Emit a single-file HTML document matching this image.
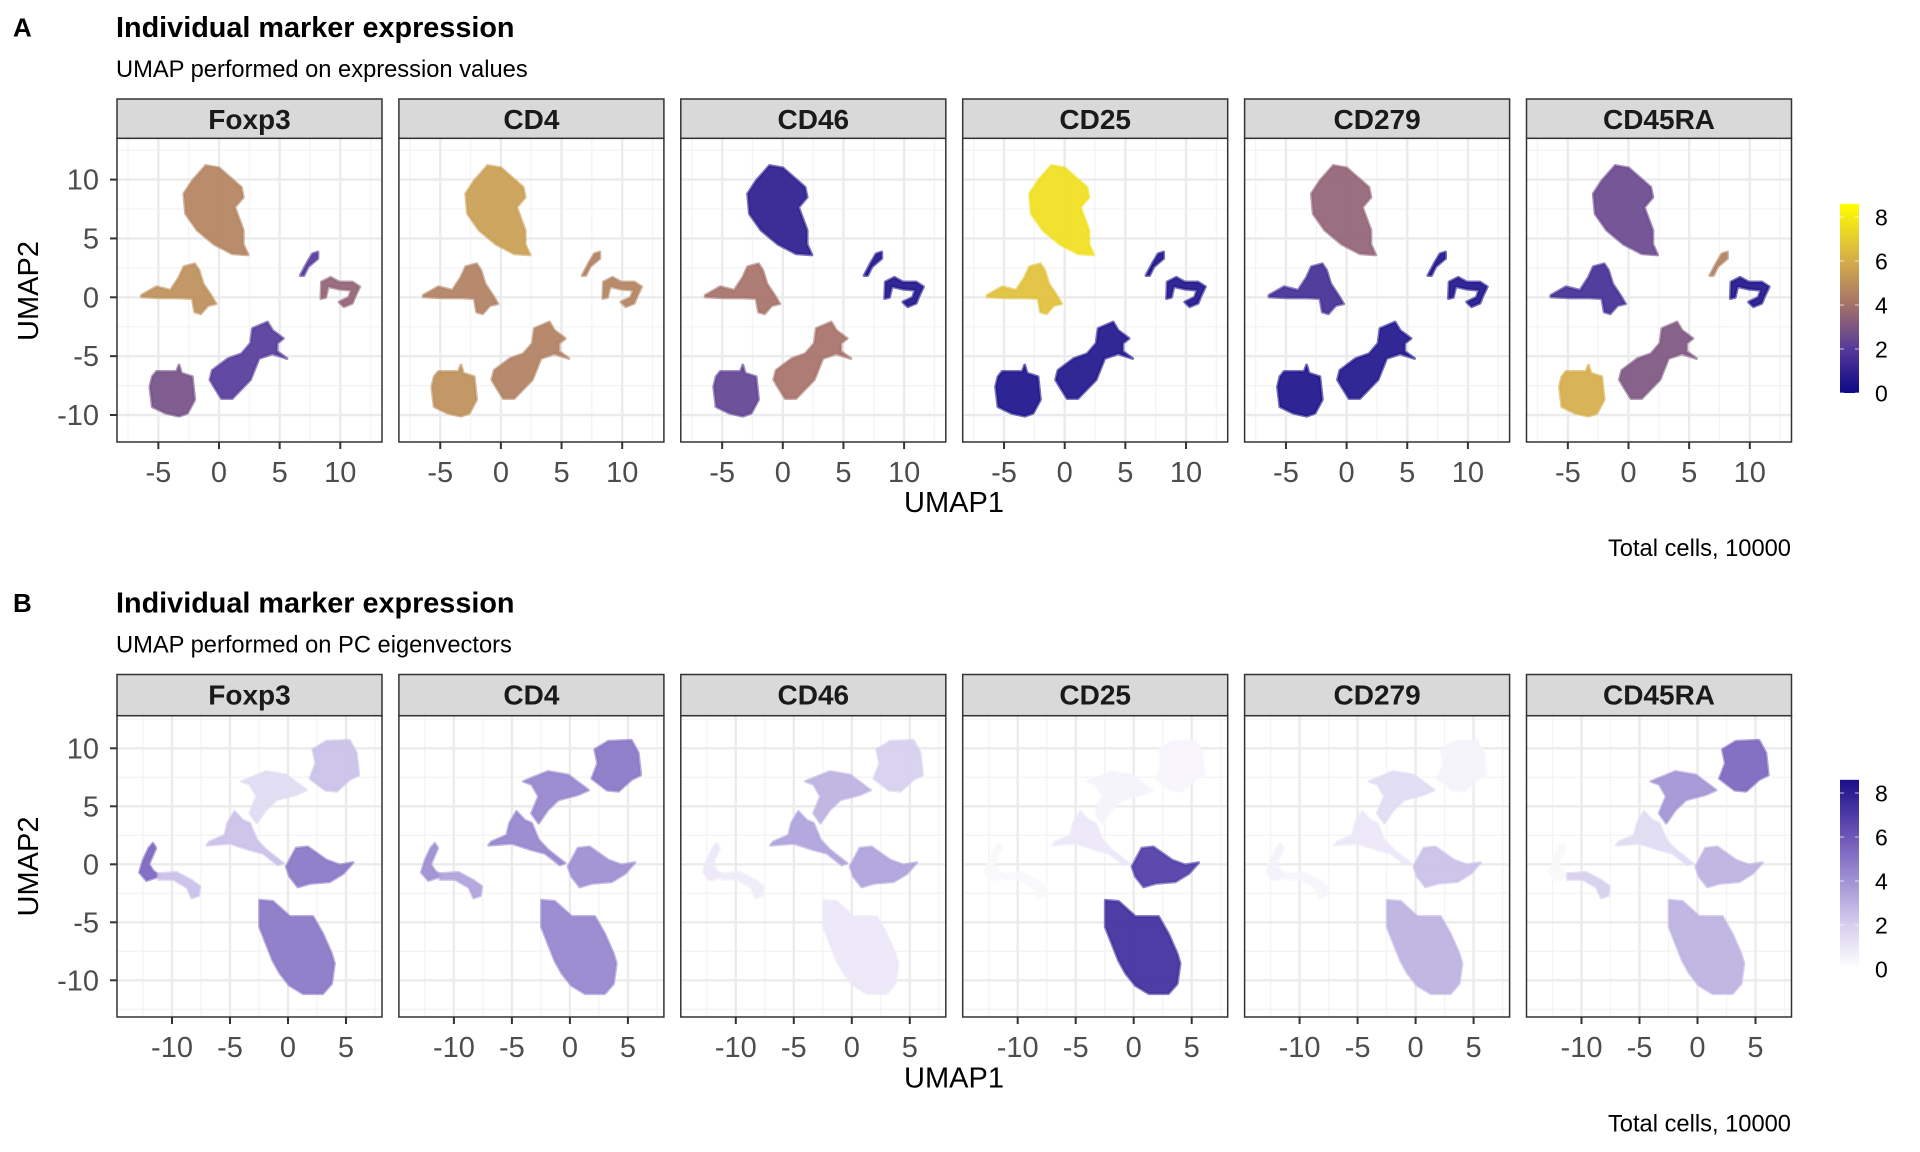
<!DOCTYPE html>
<html>
<head>
<meta charset="utf-8">
<style>
html,body{margin:0;padding:0;background:#fff;}
svg{display:block;font-family:"Liberation Sans",Arial,sans-serif;}
</style>
</head>
<body>
<svg id="fig" width="1920" height="1152" viewBox="0 0 1920 1152" xmlns="http://www.w3.org/2000/svg"></svg>
<script>
// ---------- DATA ----------
const markers = ["Foxp3","CD4","CD46","CD25","CD279","CD45RA"];

// Row A layout: clusters (polygons in UMAP units)
const topXTicks = [-5,0,5,10];
const topYTicks = [-10,-5,0,5,10];
const topClusterBig = [[-1.1,11.2],[0,11.0],[1.84,9.35],[2.0,8.5],[1.3,7.65],[2.0,5.7],[2.0,4.5],[2.4,3.6],[1.1,3.7],[-0.4,4.5],[-1.8,5.7],[-2.75,7.1],[-2.9,8.8],[-2.2,9.9]];
const topClusterLeft = [[-6.4,0.17],[-5.15,0.9],[-4.0,0.6],[-3.3,1.7],[-2.9,2.6],[-2.0,2.85],[-1.65,2.3],[-1.3,1.15],[-0.75,0.3],[-0.25,-0.55],[-0.9,-0.7],[-1.5,-1.4],[-2.0,-1.25],[-2.2,-0.1],[-3.3,-0.05],[-4.8,-0.05],[-6.4,0.03]];
const topClusterSmall = [[6.7,1.85],[7.3,3.0],[7.7,3.7],[8.15,3.85],[8.15,3.3],[7.35,2.6],[7.0,1.85]];
const topClusterRing = [[8.45,1.3],[9.2,1.7],[9.9,1.3],[11.0,1.3],[11.6,0.9],[11.2,0.03],[11.0,-0.5],[10.3,-0.8],[9.9,-0.4],[10.7,0],[10.9,0.6],[9.9,0.7],[9.0,0.9],[8.8,0],[8.4,-0.1]];
const topClusterMid = [[-0.55,-6.2],[0.75,-5.2],[1.85,-4.8],[2.6,-3.9],[2.75,-2.65],[4.0,-2.1],[4.4,-2.8],[5.3,-3.5],[4.8,-3.9],[4.8,-4.6],[5.6,-5.2],[4.4,-4.8],[3.3,-5.2],[2.6,-7.0],[1.1,-8.6],[0.2,-8.6],[-0.4,-7.6],[-0.75,-7.0]];
const topClusterSquare = [[-5.15,-6.3],[-3.5,-6.3],[-3.3,-5.75],[-3.1,-6.45],[-2.2,-6.75],[-2.0,-8.7],[-2.6,-9.85],[-3.3,-10.1],[-4.4,-9.85],[-5.5,-9.3],[-5.7,-7.6],[-5.5,-6.75]];
// expression per marker (rows) per cluster (big,left,small,ring,mid,square)
const topExpr = [
  [4.6,5.0,2.0,3.5,2.0,2.8],
  [5.5,4.5,4.5,4.6,4.5,5.0],
  [0.8,4.0,0.5,0.5,4.0,2.3],
  [7.6,6.6,0.5,0.5,0.5,0.4],
  [3.5,1.5,0.5,0.5,0.5,0.4],
  [2.5,1.5,4.5,0.5,3.0,6.0]
];

// Row B layout
const botXTicks = [-10,-5,0,5];
const botYTicks = [-10,-5,0,5,10];
const botClusterTR = [[2.15,9.9],[3.3,10.6],[5.3,10.7],[5.9,9.6],[6.1,7.7],[5.3,7.3],[4.2,6.3],[3.2,6.4],[1.9,7.4],[2.4,8.7]];
const botClusterUpper = [[-4.0,7.15],[-1.9,8.0],[-0.15,7.7],[1.6,6.4],[0.7,6.0],[-1.0,5.55],[-1.9,4.7],[-2.7,3.55],[-3.3,4.4],[-2.7,5.85],[-3.3,6.9]];
const botClusterJunction = [[-4.6,4.55],[-3.9,3.8],[-3.3,3.55],[-2.7,2.1],[-1.9,1.25],[-0.43,0.1],[-0.86,-0.05],[-2.15,0.95],[-3.3,1.25],[-5.0,1.8],[-7.0,1.65],[-6.75,1.95],[-5.45,2.5],[-5.2,3.55]];
const botClusterFan = [[0.7,1.4],[1.7,1.5],[3.3,0.37],[4.45,-0.05],[5.6,0.15],[4.75,-0.8],[3.6,-1.5],[1.9,-1.65],[0.85,-1.95],[0.15,-1.05],[-0.15,-0.2]];
const botClusterBottom = [[-2.45,-3.1],[-1.3,-3.2],[0.15,-4.5],[2.15,-4.5],[3.0,-6.0],[3.75,-7.7],[4.0,-8.55],[3.75,-10.3],[3.0,-11.15],[1.3,-11.15],[0.15,-10.45],[-0.7,-9.4],[-1.3,-8.3],[-1.9,-6.8],[-2.45,-5.4],[-2.45,-4.2]];
const botClusterLeftA = [[-11.65,1.8],[-11.4,1.4],[-12.0,0.0],[-11.6,-0.6],[-11.0,-1.0],[-12.2,-1.4],[-12.8,-0.7],[-12.5,0.3],[-12.0,1.4]];
const botClusterLeftB = [[-11.2,-0.8],[-9.6,-0.7],[-8.3,-1.4],[-7.6,-1.9],[-7.7,-2.7],[-8.3,-2.9],[-8.7,-2.0],[-9.9,-1.3],[-11.2,-1.3]];
// expression per marker per cluster (TR,upper,junction,fan,bottom,leftA,leftB)
const botExpr = [
  [2.5,1.5,2.5,5.0,5.0,5.5,2.5],
  [5.0,4.5,4.5,4.2,4.5,4.2,3.5],
  [2.0,3.0,3.5,3.5,1.0,1.0,0.8],
  [0.4,0.5,1.0,7.0,7.5,0.3,0.3],
  [0.5,1.5,1.0,2.5,3.0,0.6,0.4],
  [5.5,4.0,1.5,3.0,3.0,0.3,2.0]
];

const legendTicks = [0,2,4,6,8];

// ---------- LAYOUT ----------
const NS = "http://www.w3.org/2000/svg";
const svg = document.getElementById('fig');
function mk(tag, attrs, parent){ const e=document.createElementNS(NS,tag); for(const k in attrs) e.setAttribute(k,attrs[k]); (parent||svg).appendChild(e); return e; }
function txt(s, attrs, parent){ const e=mk('text',attrs,parent); e.textContent=s; return e; }

const panelLeft0 = 117, pitch = 281.9, panelW = 265;
const rows = [
  {off:0, top:138.3, bottom:442, x0off:102, xu:12.13, y0:297.3, yu:11.77,
   xticks:topXTicks, yticks:topYTicks, xminor:[-7.5,-2.5,2.5,7.5,12.5], yminor:[-7.5,-2.5,2.5,7.5,12.5],
   clusters:[topClusterBig,topClusterLeft,topClusterSmall,topClusterRing,topClusterMid,topClusterSquare], expr:topExpr, pal:'plasma',
   letter:'A', sub:'UMAP performed on expression values'},
  {off:575.5, top:715.7, bottom:1017, x0off:171, xu:11.6, y0:864.3, yu:11.6,
   xticks:botXTicks, yticks:botYTicks, xminor:[-12.5,-7.5,-2.5,2.5,7.5], yminor:[-12.5,-7.5,-2.5,2.5,7.5,12.5],
   clusters:[botClusterTR,botClusterUpper,botClusterJunction,botClusterFan,botClusterBottom,botClusterLeftA,botClusterLeftB], expr:botExpr, pal:'purples',
   letter:'B', sub:'UMAP performed on PC eigenvectors'}
];

const palettes = {
  plasma:[[0,[13,8,135]],[2,[85,58,153]],[4,[165,113,105]],[6,[213,173,74]],[8.6,[255,255,0]]],
  purples:[[0,[255,255,255]],[2,[214,207,238]],[4,[161,147,212]],[6,[110,86,184]],[8.6,[26,15,136]]]
};
function colorAt(pal, v){
  const s = palettes[pal];
  if(v<=s[0][0]) return 'rgb('+s[0][1].join(',')+')';
  for(let i=1;i<s.length;i++){
    if(v<=s[i][0]){ const t=(v-s[i-1][0])/(s[i][0]-s[i-1][0]); const c=s[i-1][1].map((a,j)=>Math.round(a+(s[i][1][j]-a)*t)); return 'rgb('+c.join(',')+')'; }
  }
  return 'rgb('+s[s.length-1][1].join(',')+')';
}

rows.forEach((R, ri) => {
  const h = mk('g',{});  
  const l = txt(R.letter,{x:13,y:36.7+R.off,'font-size':26,'font-weight':'bold',fill:'#000'},h);
   
  const t = txt('Individual marker expression',{x:116,y:37+R.off,'font-size':28.8,'font-weight':'bold',fill:'#000'},h);
   
  const st = txt(R.sub,{x:116,y:77+R.off,'font-size':23.7,fill:'#000'},h);
   

  markers.forEach((m, mi) => {
    const L = panelLeft0 + mi*pitch;
    const X = v => L + R.x0off + v*R.xu;
    const Y = v => R.y0 + v*R.yu*-1;
    const g = mk('g',{});  
    mk('rect',{x:L,y:R.top,width:panelW,height:R.bottom-R.top,fill:'#fff'},g);
    const clipId='clip'+ri+'_'+mi;
    const cp = mk('clipPath',{id:clipId},g); mk('rect',{x:L,y:R.top,width:panelW,height:R.bottom-R.top},cp);
    R.xminor.forEach(v=>{ const e=mk('line',{x1:X(v),x2:X(v),y1:R.top,y2:R.bottom,stroke:'#f4f4f4','stroke-width':1.3},g);   });
    R.yminor.forEach(v=>{ if(Y(v)>R.top&&Y(v)<R.bottom){ const e=mk('line',{x1:L,x2:L+panelW,y1:Y(v),y2:Y(v),stroke:'#f4f4f4','stroke-width':1.3},g);   }});
    R.xticks.forEach(v=>{ const e=mk('line',{x1:X(v),x2:X(v),y1:R.top,y2:R.bottom,stroke:'#ebebeb','stroke-width':2.4},g);   });
    R.yticks.forEach(v=>{ const e=mk('line',{x1:L,x2:L+panelW,y1:Y(v),y2:Y(v),stroke:'#ebebeb','stroke-width':2.4},g);   });
    const cg = mk('g',{'clip-path':'url(#'+clipId+')'},g);
    R.clusters.forEach((poly, ci) => {
      const pts = poly.map(p => X(p[0]).toFixed(1)+','+Y(p[1]).toFixed(1)).join(' ');
      const col = colorAt(R.pal, R.expr[mi][ci]);
      const e = mk('polygon',{points:pts,fill:col,stroke:col,'stroke-width':3,'stroke-linejoin':'round','fill-opacity':0.92,'stroke-opacity':0.6},cg);
      
      
    });
    mk('rect',{x:L,y:R.top,width:panelW,height:R.bottom-R.top,fill:'none',stroke:'#333','stroke-width':1.5},g);
    const sTop = 99 + R.off;
    const sr = mk('rect',{x:L,y:sTop,width:panelW,height:R.top-sTop,fill:'#d9d9d9',stroke:'#333','stroke-width':1.5},g);
     
    const stx = txt(m,{x:L+panelW/2,y:sTop+30,'font-size':28,'font-weight':'bold','text-anchor':'middle',fill:'#1a1a1a'},g);
     
    R.xticks.forEach(v=>{
      mk('line',{x1:X(v),x2:X(v),y1:R.bottom,y2:R.bottom+7,stroke:'#333','stroke-width':2},g);
      const e = txt(String(v),{x:X(v),y:R.bottom+40,'font-size':29,'text-anchor':'middle',fill:'#4d4d4d'},g);
       
    });
    if(mi===0){
      R.yticks.forEach(v=>{
        mk('line',{x1:L-7,x2:L,y1:Y(v),y2:Y(v),stroke:'#333','stroke-width':2},g);
        const e = txt(String(v),{x:L-18,y:Y(v)+10,'font-size':29,'text-anchor':'end',fill:'#4d4d4d'},g);
         
      });
    }
  });

  const xl = txt('UMAP1',{x:954,y:512+R.off,'font-size':29,'text-anchor':'middle',fill:'#000'});
   
  const yl = txt('UMAP2',{x:0,y:0,'font-size':29,'text-anchor':'middle',fill:'#000',transform:'translate(38,'+(291+R.off)+') rotate(-90)'});
   
  const cap = txt('Total cells, 10000',{x:1791,y:556+R.off,'font-size':23.7,'text-anchor':'end',fill:'#000'});
   

  const lg = mk('g',{});  
  const gid='grad'+ri;
  const gr = mk('linearGradient',{id:gid,x1:0,y1:1,x2:0,y2:0},lg);
  palettes[R.pal].forEach(s=>{ mk('stop',{offset:(s[0]/8.6).toFixed(3),'stop-color':'rgb('+s[1].join(',')+')'},gr); });
  const lu = 22;
  const LV = v => (ri===0?393:969) - v*lu;
  mk('rect',{x:1840,y:LV(8.6),width:19,height:8.6*lu,fill:'url(#'+gid+')'},lg);
  legendTicks.forEach(v=>{
    mk('line',{x1:1840,x2:1844,y1:LV(v),y2:LV(v),stroke:'#fff','stroke-width':1,'stroke-opacity':0.7},lg);
    mk('line',{x1:1855,x2:1859,y1:LV(v),y2:LV(v),stroke:'#fff','stroke-width':1,'stroke-opacity':0.7},lg);
    const e = txt(String(v),{x:1875,y:LV(v)+8.5,'font-size':23,fill:'#000'},lg);
     
  });
});
</script>
</body>
</html>
